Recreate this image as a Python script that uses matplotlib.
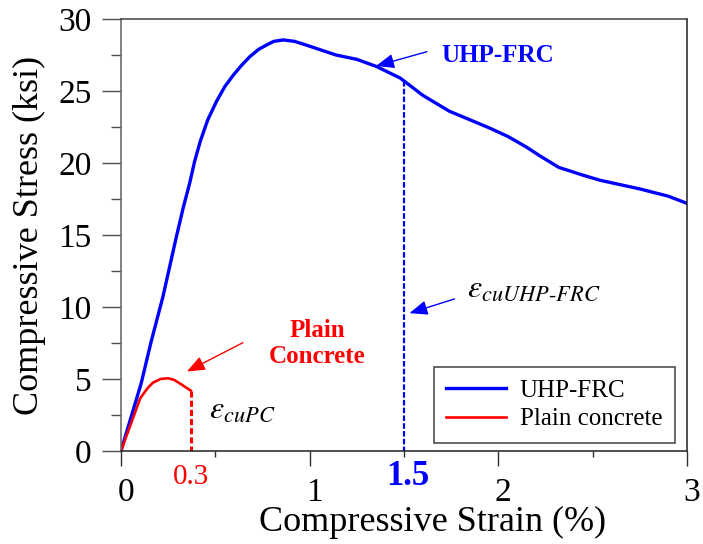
import matplotlib
matplotlib.use("Agg")
import matplotlib.pyplot as plt
import matplotlib.transforms as mtransforms

# -----------------------------
# 1. Data
# -----------------------------
uhp_strain = [0, 0.107, 0.16, 0.222, 0.294, 0.33, 0.364, 0.39, 0.42, 0.46,
              0.507, 0.55, 0.595, 0.64, 0.684, 0.73, 0.772, 0.81, 0.86, 0.92,
              0.98, 1.14, 1.25, 1.355, 1.48, 1.60, 1.74, 1.85, 1.95, 2.05,
              2.15, 2.22, 2.32, 2.45, 2.54, 2.75, 2.9, 3.0]
uhp_stress = [0, 4.7, 7.6, 10.7, 14.9, 16.9, 18.6, 20.1, 21.5, 23.0,
              24.3, 25.3, 26.1, 26.8, 27.4, 27.9, 28.2, 28.45, 28.55, 28.45,
              28.2, 27.5, 27.2, 26.7, 25.9, 24.7, 23.6, 23.0, 22.45, 21.85,
              21.1, 20.5, 19.7, 19.15, 18.8, 18.2, 17.7, 17.2]

pc_strain = [0, 0.102, 0.14, 0.169, 0.21, 0.249, 0.28, 0.311, 0.37]
pc_stress = [0, 3.66, 4.35, 4.74, 5.0, 5.05, 4.95, 4.70, 4.19]

eps_cu_pc = 0.37      # where the plain concrete curve ends
eps_cu_uhp = 1.5
eps_cu_uhp_stress = 25.7

x_ticks = [0, 1, 2, 3]
x_minor = [0.5, 1.5, 2.5]
y_ticks = [0, 5, 10, 15, 20, 25, 30]
y_minor = [2.5, 7.5, 12.5, 17.5, 22.5, 27.5]

# -----------------------------
# 2. Style
# -----------------------------
plt.rcParams['font.family'] = ['Liberation Serif', 'DejaVu Serif']
plt.rcParams['mathtext.fontset'] = 'stix'

fig = plt.figure(figsize=(7.03, 5.44), dpi=100)
ax = fig.add_axes([0.1721, 0.171, 0.8051, 0.794])

ax.plot(uhp_strain, uhp_stress, color='#0000ff', lw=2.4, label='UHP-FRC')
ax.plot(pc_strain, pc_stress, color='#ff0000', lw=1.9, label='Plain concrete')

# ultimate strain markers
ax.plot([eps_cu_uhp, eps_cu_uhp], [eps_cu_uhp_stress, 0], color='#0000ff',
        lw=1.6, dashes=(2.5, 1))
ax.plot([eps_cu_pc, eps_cu_pc], [pc_stress[-1], 0], color='#ff0000',
        lw=2.2, dashes=(2, 1))

ax.set_xlim(0, 3)
ax.set_ylim(0, 30)
ax.set_xticks(x_ticks)
ax.set_xticks(x_minor, minor=True)
ax.set_yticks(y_ticks)
ax.set_yticks(y_minor, minor=True)
ax.tick_params(axis='both', which='major', labelsize=24)
ax.tick_params(axis='y', which='major', length=14, width=1, color='#505050', pad=7)
ax.tick_params(axis='y', which='minor', length=7, width=1, color='#505050')
ax.tick_params(axis='x', which='major', length=11, width=1, color='#303030', pad=8)
ax.tick_params(axis='x', which='minor', length=4, width=1, color='#303030')

offset = mtransforms.ScaledTranslation(5 / 100, 0, fig.dpi_scale_trans)
for lab in ax.get_xticklabels():
    lab.set_transform(lab.get_transform() + offset)

ax.spines['left'].set_color('#606060')
ax.spines['top'].set_color('#404040')
ax.spines['right'].set_color('#202020')
ax.spines['bottom'].set_color('#202020')
for s in ax.spines.values():
    s.set_linewidth(1.1)

ax.set_xlabel('Compressive Strain (%)', fontsize=26)
ax.set_ylabel('Compressive Stress (ksi)', fontsize=26)
ax.xaxis.set_label_coords(0.551, -0.128)
ax.yaxis.set_label_coords(-0.132, 0.5)

# extra strain labels under the axis
xtrans = ax.get_xaxis_transform()
ax.text(0.372, -0.06, '0.3', transform=xtrans, color='#ff0000', fontsize=21,
        ha='center', va='center')
ax.text(1.519, -0.058, '1.5', transform=xtrans, color='#0000ff', fontsize=25,
        fontweight='bold', ha='center', va='center')

# annotations
arrow = dict(arrowstyle='-|>,head_length=0.55,head_width=0.22', lw=1,
             mutation_scale=20, shrinkA=0, shrinkB=0)
ax.annotate('', xy=(1.352, 26.74), xytext=(1.621, 27.73),
            arrowprops=dict(arrow, color='#0000ff'))
ax.text(1.996, 27.5, 'UHP-FRC', color='#0000ff', fontsize=18,
        fontweight='bold', ha='center', va='center')

ax.annotate('', xy=(0.349, 5.52), xytext=(0.646, 7.52),
            arrowprops=dict(arrow, color='#ff0000'))
ax.text(1.042, 7.45, 'Plain\nConcrete', color='#ff0000', fontsize=18,
        fontweight='bold', ha='center', va='center', linespacing=1.15)

ax.annotate('', xy=(1.529, 9.57), xytext=(1.768, 10.56),
            arrowprops=dict(arrow, color='#0000ff'))
ax.text(1.835, 11.2, r'$\varepsilon_{cuUHP\text{-}FRC}$', fontsize=23,
        ha='left', va='center')
ax.text(0.469, 2.8, r'$\varepsilon_{cuPC}$', fontsize=23,
        ha='left', va='center')

leg = ax.legend(loc='lower right', bbox_to_anchor=(0.979, 0.019), fontsize=18,
                fancybox=False, framealpha=1, edgecolor='#404040',
                handlelength=2.4, handletextpad=0.55, labelspacing=0.25,
                borderpad=0.5, borderaxespad=0)
leg.get_frame().set_linewidth(1.1)

fig.savefig('out.png', dpi=100)
